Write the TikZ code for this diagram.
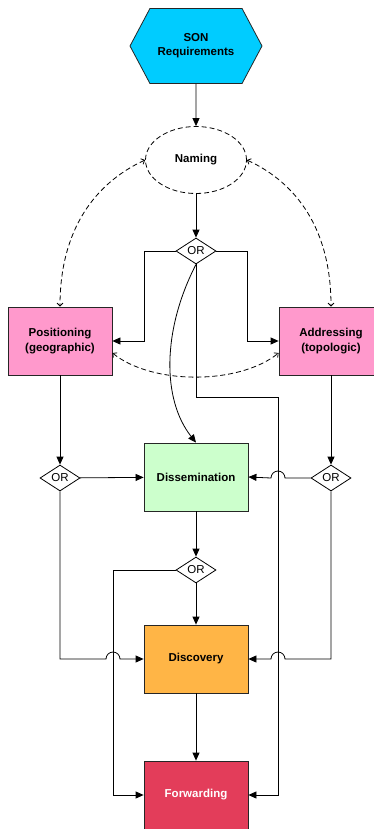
\documentclass[tikz,border=0pt]{standalone}
\usepackage{fontspec}
\setmainfont{Liberation Sans}
\usetikzlibrary{shapes.geometric,shapes.symbols,arrows.meta,calc}
\definecolor{reqcyan}{HTML}{00CCFF}
\definecolor{pospink}{HTML}{FF99CC}
\definecolor{dissgreen}{HTML}{CCFFCC}
\definecolor{discorange}{HTML}{FFB546}
\definecolor{fwdred}{HTML}{E33D5A}

\begin{document}
\begin{tikzpicture}[x=1pt,y=-1pt,line width=0.8pt,node distance=100pt,
    flow/.style={-{Triangle[length=8pt,width=7pt]}},
    link/.style={dash pattern=on 5pt off 3pt,{Straight Barb[length=3pt,width=6pt]}-{Straight Barb[length=3pt,width=6pt]}},
    box/.style={rectangle,draw=black!85,minimum width=104pt,minimum height=68pt,align=center,font=\fontsize{11.5}{14.5}\selectfont\bfseries},
    gate/.style={diamond,draw,aspect=1.54,minimum width=40pt,minimum height=26pt,inner sep=0pt,fill=white,font=\fontsize{11.5}{13}\selectfont},
    hexa/.style={signal,signal to=east and west,signal pointer angle=124,draw=black!85,fill=reqcyan,minimum width=132pt,minimum height=75pt,inner sep=0pt,align=center,font=\fontsize{11.5}{14}\selectfont\bfseries}]
    \useasboundingbox (0,0) rectangle (374,829);

    % nodes
    \node[hexa] (req) at (196,46) {SON\\Requirements};
    \node[ellipse,draw,dash pattern=on 5pt off 3pt,minimum width=101pt,minimum height=67pt,font=\fontsize{11.5}{13}\selectfont\bfseries,node distance=114pt] (naming) [below of=req] {Naming};
    \node[gate,node distance=91pt] (or1) [below of=naming] {OR};
    \node[box,fill=pospink] (pos) at (60,341) {Positioning\\(geographic)};
    \node[box,fill=pospink] (addr) at (331,341) {Addressing\\(topologic)};
    \node[box,fill=dissgreen,node distance=226pt] (diss) [below of=or1] {Dissemination};
    \node[gate,node distance=137pt] (or2) [below of=pos] {OR};
    \node[gate,node distance=137pt] (or4) [below of=addr] {OR};
    \node[gate,node distance=93pt] (or3) [below of=diss] {OR};
    \node[box,fill=discorange,node distance=89pt] (disc) [below of=or3] {Discovery};
    \node[box,fill=fwdred,text=white,node distance=136pt] (fwd) [below of=disc] {Forwarding};

    % rails that the other lines jump over
    \coordinate (railR) at (278,397);
    \coordinate (railL) at (113,570);

    % main flow
    \draw[flow] (req) -- (naming);
    \draw[flow] (naming) -- (or1);
    \draw[flow] (or1.west) -- ++(-31,0) |- (pos.east);
    \draw[flow] (or1.east) -- ++(31,0) |- (addr.west);
    \draw[flow] (or1.south) .. controls +(-34,66) and +(-34,-43) .. (diss.north);
    \draw[flow] (or1.south) -- (or1 |- railR) -- (railR) |- (fwd.east);
    \draw[flow] (pos) -- (or2);
    \draw[flow] (addr) -- (or4);
    \draw[flow] (or2) -- (diss);
    \draw[flow] (or4.west) -- ($(railR |- or4.west)+(7,0)$) arc[start angle=0,end angle=180,radius=7pt] -- (diss.east);
    \draw[flow] (or2.south) -- (or2 |- disc.west) -- ($(railL |- disc.west)+(-7,0)$) arc[start angle=180,end angle=0,radius=7pt] -- (disc.west);
    \draw[flow] (or4.south) -- (or4 |- disc.east) -- ($(railR |- disc.east)+(7,0)$) arc[start angle=0,end angle=180,radius=7pt] -- (disc.east);
    \draw[flow] (diss) -- (or3);
    \draw[flow] (or3) -- (disc);
    \draw[flow] (or3.west) -- (railL) |- (fwd.west);
    \draw[flow] (disc) -- (fwd);

    % dashed links
    \draw[link] (naming.west) .. controls +(-50,23) and +(0,-77) .. (pos.north);
    \draw[link] (naming.east) .. controls +(50,23) and +(0,-77) .. (addr.north);
    \draw[link] ([yshift=-12pt]pos.east) .. controls +(40,32) and +(-40,32) .. ([yshift=-12pt]addr.west);
\end{tikzpicture}
\end{document}
